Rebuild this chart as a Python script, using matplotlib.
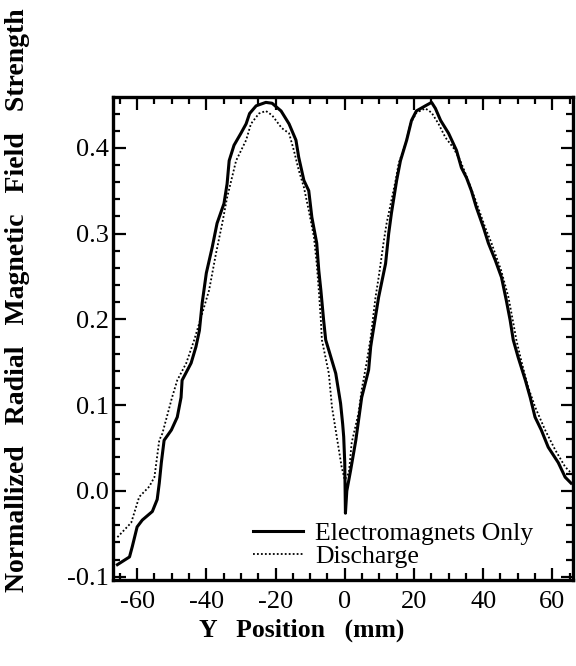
import numpy as np
import matplotlib
matplotlib.use("Agg")
import matplotlib.pyplot as plt
from matplotlib.ticker import MultipleLocator

plt.rcParams["font.family"] = "serif"
plt.rcParams["font.serif"] = ["Liberation Serif", "DejaVu Serif"]
plt.rcParams["axes.unicode_minus"] = False

# Electromagnets Only (solid)
em_x = [-65.7, -62.2, -61.4, -60.0, -58.5, -55.6, -54.2, -53.6, -53.0, -52.2, -50.1, -48.4,
        -47.3, -47.0, -44.4, -43.0, -42.0, -41.2, -40.0, -38.3, -36.9, -34.9, -34.0, -33.4,
        -32.0, -30.0, -28.5, -27.5, -25.6, -22.8, -21.0, -18.4, -16.1, -14.1, -13.3, -11.8,
        -10.4, -9.5, -8.1, -7.5, -6.9, -6.1, -5.5, -4.6, -2.6, -1.2, -0.6, -0.3, 0.0, 0.2,
        0.6, 1.7, 3.2, 4.9, 6.9, 7.5, 7.8, 9.8, 11.8, 12.7, 13.5, 15.0, 16.1, 17.9, 19.3,
        20.7, 23.3, 25.1, 26.2, 27.7, 30.0, 32.3, 33.7, 35.2, 36.6, 38.0, 40.1, 41.5, 43.5,
        45.3, 46.7, 47.8, 48.7, 50.1, 52.2, 53.6, 55.0, 56.8, 58.8, 61.7, 63.7, 65.4]
em_y = [-0.086, -0.077, -0.065, -0.042, -0.034, -0.024, -0.010, 0.009, 0.033, 0.059, 0.071, 0.086,
        0.109, 0.129, 0.149, 0.168, 0.187, 0.219, 0.254, 0.284, 0.312, 0.335, 0.358, 0.385,
        0.403, 0.417, 0.428, 0.440, 0.449, 0.453, 0.452, 0.443, 0.428, 0.409, 0.389, 0.362,
        0.350, 0.319, 0.289, 0.257, 0.234, 0.199, 0.176, 0.164, 0.137, 0.102, 0.078, 0.063, 0.033, -0.026,
        0.000, 0.024, 0.059, 0.109, 0.141, 0.168, 0.176, 0.226, 0.265, 0.300, 0.324, 0.362, 0.385, 0.409, 0.432,
        0.443, 0.449, 0.453, 0.446, 0.432, 0.417, 0.397, 0.377, 0.365, 0.350, 0.331, 0.307, 0.289, 0.269,
        0.249, 0.222, 0.199, 0.176, 0.156, 0.129, 0.109, 0.086, 0.071, 0.051, 0.033, 0.016, 0.009]

# Discharge (dotted)
dc_x = [-65.7, -61.7, -59.4, -56.5, -55.0, -53.6, -52.7, -49.9, -48.4, -45.8, -43.5, -42.0,
        -39.2, -37.2, -35.4, -34.0, -31.4, -28.5, -27.1, -24.8, -22.8, -21.0, -18.2, -16.1,
        -14.7, -13.3, -11.8, -10.4, -8.9, -8.1, -7.5, -6.9, -6.6, -4.6, -3.7, -2.3, -0.9,
        0.0, 1.2, 2.0, 4.0, 4.9, 6.3, 7.5, 8.9, 9.8, 11.2, 12.1, 13.5, 14.7, 15.6, 17.6,
        19.0, 20.7, 23.3, 25.1, 27.1, 29.1, 31.4, 33.4, 34.9, 37.8, 40.6, 42.4, 45.2, 47.3,
        48.7, 49.6, 51.0, 53.0, 55.0, 57.9, 60.8, 63.7, 65.4]
dc_y = [-0.054, -0.037, -0.007, 0.005, 0.016, 0.059, 0.067, 0.109, 0.129, 0.149, 0.176, 0.196,
        0.234, 0.277, 0.312, 0.342, 0.385, 0.409, 0.428, 0.440, 0.443, 0.438, 0.423, 0.417,
        0.397, 0.374, 0.354, 0.327, 0.296, 0.265, 0.234, 0.199, 0.176, 0.137, 0.098, 0.063, 0.028,
        0.013, 0.021, 0.056, 0.091, 0.118, 0.149, 0.179, 0.226, 0.249, 0.289, 0.312, 0.339, 0.362,
        0.382, 0.405, 0.428, 0.441, 0.446, 0.441, 0.428, 0.412, 0.400, 0.385, 0.370, 0.339, 0.307,
        0.289, 0.257, 0.226, 0.196, 0.176, 0.152, 0.121, 0.098, 0.071, 0.048, 0.028, 0.021]

fig = plt.figure(figsize=(5.76, 6.66), dpi=100)
ax = fig.add_axes([0.196, 0.129, 0.799, 0.725])

ax.plot(em_x, em_y, color="black", lw=2.2, label="Electromagnets Only")
ax.plot(dc_x, dc_y, color="black", lw=1.3, linestyle=(0, (1, 1.2)), label="Discharge")

ax.set_xlim(-67, 66)
ax.set_ylim(-0.104, 0.459)
ax.xaxis.set_major_locator(MultipleLocator(20))
ax.xaxis.set_minor_locator(MultipleLocator(5))
ax.yaxis.set_major_locator(MultipleLocator(0.1))
ax.yaxis.set_minor_locator(MultipleLocator(0.02))
ax.yaxis.set_major_formatter(plt.FuncFormatter(lambda v, p: f"{v:.1f}"))
ax.tick_params(which="both", direction="in", top=True, right=True, width=1.6, labelsize=19)
ax.tick_params(which="major", length=9)
ax.tick_params(which="minor", length=5)
ax.tick_params(axis="x", which="major", pad=8)
ax.tick_params(axis="y", which="major", pad=3)
for s in ax.spines.values():
    s.set_linewidth(2.4)

ax.legend(loc="lower left", bbox_to_anchor=(0.304, 0.025), frameon=False, fontsize=18.5,
          handlelength=1.95, handletextpad=0.47, borderpad=0, borderaxespad=0,
          labelspacing=0.0)

fig.text(0.523, 0.054, "Y   Position   (mm)", ha="center", va="center",
         fontsize=18.5, fontweight="bold")
fig.text(0.031, 0.55, "Normallized   Radial   Magnetic   Field   Strength", ha="center",
         va="center", rotation=90, fontsize=20, fontweight="bold")

fig.savefig("out.png", dpi=100)
